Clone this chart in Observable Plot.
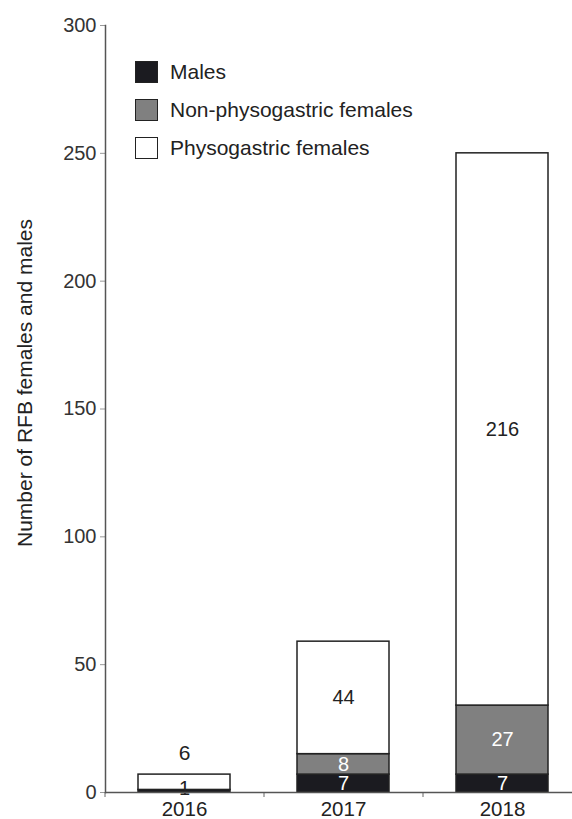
<!DOCTYPE html>
<html>
<head>
<meta charset="utf-8">
<script src="https://cdn.jsdelivr.net/npm/d3@7"></script>
<script src="https://cdn.jsdelivr.net/npm/@observablehq/plot@0.6"></script>
<style>
  html, body { margin: 0; padding: 0; background: #fff; }
  #wrap { position: relative; width: 572px; height: 819px; font-family: "Liberation Sans", Arial, sans-serif; }
  #legend { position: absolute; left: 135px; top: 53px; color: #222; font-size: 21px; }
  .item { display: flex; align-items: center; height: 38px; }
  .sw { width: 21px; height: 20px; border: 1.5px solid #222; margin-right: 12px; box-sizing: content-box; }
</style>
</head>
<body>
<div id="wrap"></div>
<script>
const years = ["2016", "2017", "2018"];
const groups = ["Males", "Non-physogastric females", "Physogastric females"];
const males = [1, 7, 7];
const nonPhys = [0, 8, 27];
const phys = [6, 44, 216];
const yTicks = [0, 50, 100, 150, 200, 250, 300];
const colors = ["#1b1b20", "#808080", "#ffffff"];
const labelColors = ["#ffffff", "#ffffff", "#222222"];
const yLabel = "Number of RFB females and males";

const series = [males, nonPhys, phys];
const rows = [];
years.forEach((yr, i) => {
  let base = 0;
  series.forEach((s, g) => {
    const v = s[i];
    const top = g === series.length - 1;
    const small = v < 8;
    rows.push({
      year: yr, group: groups[g], value: v,
      labelY: top && small ? base + v : base + v / 2,
      above: top && small,
      tiny: v < 3,
      color: (v < 3) ? "#222222" : labelColors[g]
    });
    base += v;
  });
});
const inLabels = rows.filter(d => d.value > 0 && !d.above && !d.tiny);
const tinyLabels = rows.filter(d => d.value > 0 && !d.above && d.tiny);
const aboveLabels = rows.filter(d => d.value > 0 && d.above);

const xRange = [105, 582];
const step = (xRange[1] - xRange[0]) / years.length;

const chart = Plot.plot({
  width: 572,
  height: 819,
  marginTop: 25,
  marginBottom: 27,
  marginLeft: 105,
  marginRight: 0,
  style: { fontFamily: "Liberation Sans, Arial, sans-serif", color: "#222", background: "#fff" },
  x: { domain: years, range: xRange, paddingInner: 0.42, paddingOuter: 0.21, label: null },
  y: { domain: [0, 300], label: null },
  color: { domain: groups, range: colors },
  marks: [
    Plot.barY(rows, { x: "year", y: "value", fill: "group", stroke: "#222", strokeWidth: 1.5 }),
    Plot.text(inLabels, {
      x: "year", y: "labelY", text: d => String(d.value),
      fill: d => d.color, fontSize: 20
    }),
    Plot.text(tinyLabels, {
      x: "year", y: "labelY", text: d => String(d.value),
      fill: "#222", fontSize: 20, dy: -3
    }),
    Plot.text(aboveLabels, {
      x: "year", y: "labelY", text: d => String(d.value),
      fill: "#222", fontSize: 21, dy: -21
    }),
    Plot.axisY({ ticks: yTicks, tickSize: 5, tickPadding: 4, fontSize: 20, stroke: "#999", fill: "#333", label: null }),
    Plot.axisX({ ticks: years, tickSize: 0, tickPadding: 9, fontSize: 20.5, fill: "#222", label: null }),
    Plot.axisX({ ticks: years, tickSize: 5, text: null, stroke: "#666", dx: -step / 2, label: null }),
    Plot.frame({ anchor: "left", stroke: "#555", strokeWidth: 1.5 }),
    Plot.ruleY([0], { stroke: "#555", strokeWidth: 1.5 }),
    Plot.text([yLabel], { frameAnchor: "left", textAnchor: "middle", rotate: -90, dx: -80, dy: -26, fontSize: 21, fill: "#222" })
  ]
});

const wrap = document.getElementById("wrap");
wrap.appendChild(chart);
const legend = document.createElement("div");
legend.id = "legend";
groups.forEach((g, i) => {
  const it = document.createElement("div");
  it.className = "item";
  const sw = document.createElement("div");
  sw.className = "sw";
  sw.style.background = colors[i];
  const t = document.createElement("span");
  t.textContent = g;
  it.appendChild(sw); it.appendChild(t);
  legend.appendChild(it);
});
wrap.appendChild(legend);
</script>
</body>
</html>
